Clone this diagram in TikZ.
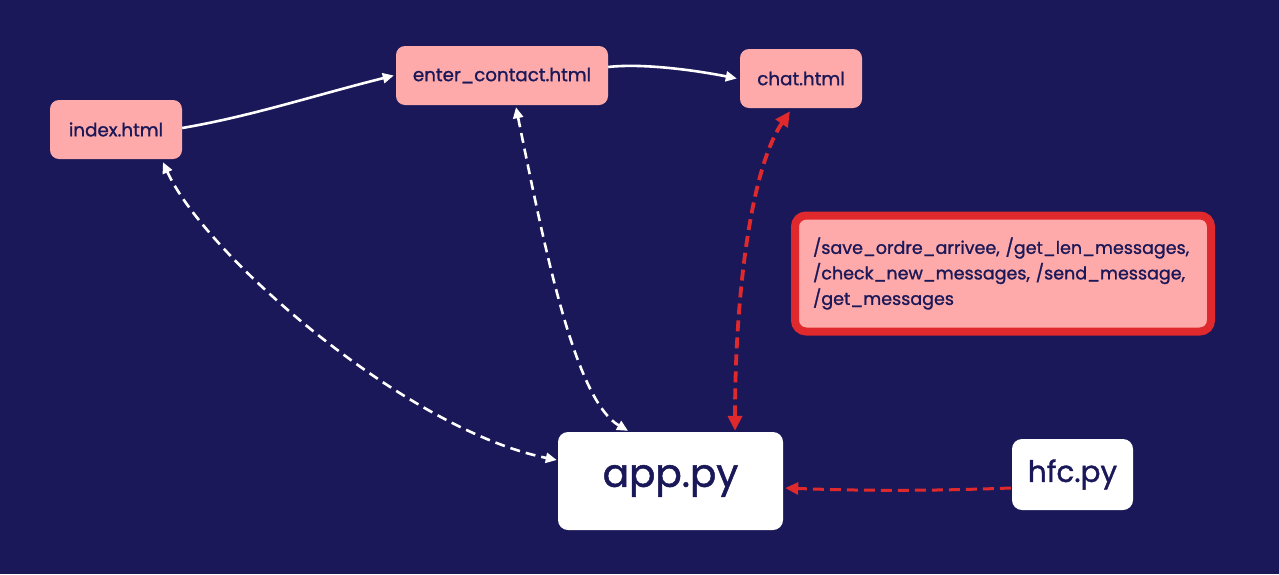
\documentclass[tikz,border=0pt]{standalone}
\usepackage{fontspec}
\setmainfont{Poppins}[FakeBold=1.2]
\usetikzlibrary{arrows.meta}
\definecolor{bg}{HTML}{1A1858}
\definecolor{pinkc}{HTML}{FFAAAA}
\definecolor{redc}{HTML}{E0292D}
\definecolor{txt}{HTML}{1A1858}
\tikzset{
  pinkbox/.style={rectangle, rounded corners=9pt, fill=pinkc, text=txt, inner sep=0pt, font=\fontsize{18.3}{22}\selectfont},
  whitebox/.style={rectangle, rounded corners=10pt, fill=white, text=txt, inner sep=0pt},
  routebox/.style={rectangle, rounded corners=11pt, fill=pinkc, draw=redc, line width=8pt, text=txt, align=left, inner sep=0pt, font=\fontsize{17.5}{25.5}\selectfont},
  wsolid/.style={draw=white, line width=2.6pt, -{Triangle[length=11pt,width=10pt]}},
  wdash/.style={draw=white, line width=2.6pt, dash pattern=on 10pt off 6pt, {Triangle[length=11pt,width=10pt]}-{Triangle[length=11pt,width=10pt]}},
  rdash/.style={draw=redc, line width=3.8pt, dash pattern=on 11pt off 6pt, {Triangle[length=15pt,width=14pt]}-{Triangle[length=15pt,width=14pt]}},
  rdashone/.style={draw=redc, line width=3pt, dash pattern=on 11pt off 6pt, -{Triangle[length=13pt,width=12pt]}},
}
\begin{document}
\begin{tikzpicture}[x=1pt,y=-1pt]
\fill[bg] (0,0) rectangle (1279,574);
\useasboundingbox (0,0) rectangle (1279,574);

\node[pinkbox, minimum width=132pt, minimum height=59pt] (index) at (116,129.5) {index.html};
\node[pinkbox, minimum width=212pt, minimum height=59pt] (enter) at (502,75.5) {enter\_contact.html};
\node[pinkbox, minimum width=122pt, minimum height=59pt] (chat) at (801,78.5) {chat.html};
\node[routebox, minimum width=416pt, minimum height=116pt, text width=380pt] (routes) at (1003,273.5)
  {/save\_ordre\_arrivee, /get\_len\_messages,\\/check\_new\_messages, /send\_message,\\/get\_messages};
\node[whitebox, minimum width=225pt, minimum height=98pt, font=\fontsize{39}{44}\selectfont] (app) at (670.5,481) {app.py};
\node[whitebox, minimum width=121pt, minimum height=71pt, font=\fontsize{29.5}{34}\selectfont] (hfc) at (1072.5,474.5) {hfc.py};

\draw[wsolid] ([yshift=1.5pt]index.east) .. controls +(70,-12) and +(-80,20) .. ([xshift=-2pt]enter.west);
\draw[wsolid] ([yshift=8.5pt]enter.east) .. controls +(35,-4) and +(-40,-8) .. ([xshift=-3pt]chat.west);
\draw[wdash] ([xshift=47pt,yshift=-3pt]index.south) .. controls (205,255) and (407,430) .. ([xshift=-1pt,yshift=21pt]app.west);
\draw[wdash] ([xshift=14pt,yshift=-2pt]enter.south) .. controls (545,250) and (575,400) .. ([xshift=-42.5pt,yshift=1pt]app.north);
\draw[rdash] ([xshift=-11pt,yshift=-3pt]chat.south) .. controls (750,170) and (735,300) .. ([xshift=64.5pt,yshift=1pt]app.north);
\draw[rdashone] ([xshift=-1pt,yshift=-13.5pt]hfc.west) .. controls +(-80,3) and +(80,3) .. ([xshift=2pt,yshift=-7pt]app.east);
\end{tikzpicture}
\end{document}
